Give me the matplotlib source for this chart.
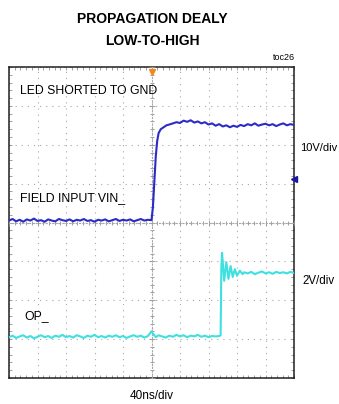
import matplotlib
matplotlib.use("Agg")
import matplotlib.pyplot as plt
from matplotlib.ticker import MultipleLocator

FONT = ['Liberation Sans Narrow', 'Liberation Sans', 'DejaVu Sans']
plt.rcParams['font.family'] = FONT

# ---------------- data (screen divisions, time in ns) ----------------
vin_t = [-200, -195, -190, -185, -180, -175, -170, -165, -160, -155,
         -150, -145, -140, -135, -130, -125, -120, -115, -110, -105,
         -100, -95, -90, -85, -80, -75, -70, -65, -60, -55,
         -50, -45, -40, -35, -30, -25, -20, -15, -10, -5, 0,
         2, 4, 6, 8, 10, 13, 17, 21,
         25, 30, 35, 40, 45, 50, 55, 60, 65, 70,
         75, 80, 85, 90, 95, 100, 105, 110, 115, 120,
         125, 130, 135, 140, 145, 150, 155, 160, 165, 170,
         175, 180, 185, 190, 195, 200]
vin_div = [0.05, 0.09, 0.03, 0.07, 0.02, 0.08, 0.05, 0.10, 0.04, 0.06,
           0.02, 0.08, 0.05, 0.03, 0.09, 0.06, 0.04, 0.08, 0.03, 0.07,
           0.05, 0.09, 0.04, 0.06, 0.02, 0.07, 0.05, 0.08, 0.03, 0.06,
           0.09, 0.04, 0.07, 0.05, 0.08, 0.03, 0.06, 0.09, 0.05, 0.07, 0.06,
           0.40, 1.05, 1.70, 2.10, 2.30, 2.40, 2.45, 2.50,
           2.52, 2.55, 2.58, 2.56, 2.62, 2.59, 2.63, 2.57, 2.60, 2.55,
           2.58, 2.52, 2.55, 2.49, 2.53, 2.47, 2.50, 2.45, 2.49, 2.46,
           2.51, 2.48, 2.53, 2.50, 2.55, 2.49, 2.52, 2.54, 2.50, 2.53,
           2.48, 2.52, 2.55, 2.50, 2.53, 2.51]

op_t = [-200, -195, -190, -185, -180, -175, -170, -165, -160, -155,
        -150, -145, -140, -135, -130, -125, -120, -115, -110, -105,
        -100, -95, -90, -85, -80, -75, -70, -65, -60, -55,
        -50, -45, -40, -35, -30, -25, -20, -15, -10, -5,
        0, 3, 6, 10, 15, 20, 25, 30, 35, 40,
        45, 50, 55, 60, 65, 70, 75, 80, 85, 90, 95,
        97, 98, 99, 102, 105, 108, 111, 114, 117, 120, 124, 128,
        130, 135, 140, 145, 150, 155, 160, 165, 170, 175,
        180, 185, 190, 195, 200]
op_div = [-2.95, -2.91, -2.97, -2.93, -2.90, -2.96, -2.92, -2.98, -2.94, -2.90,
          -2.95, -2.92, -2.97, -2.91, -2.94, -2.89, -2.95, -2.92, -2.96, -2.90,
          -2.93, -2.97, -2.91, -2.94, -2.89, -2.95, -2.92, -2.96, -2.91, -2.94,
          -2.90, -2.95, -2.92, -2.97, -2.93, -2.90, -2.94, -2.91, -2.96, -2.92,
          -2.80, -2.88, -2.95, -2.90, -2.93, -2.96, -2.91, -2.94, -2.89, -2.93,
          -2.90, -2.95, -2.91, -2.93, -2.89, -2.94, -2.91, -2.95, -2.92, -2.93, -2.92,
          -2.90, -1.20, -0.78, -1.50, -1.02, -1.45, -1.12, -1.40, -1.20, -1.37, -1.24, -1.33,
          -1.28, -1.31, -1.27, -1.33, -1.29, -1.26, -1.31, -1.28, -1.32, -1.27,
          -1.30, -1.28, -1.31, -1.27, -1.30]

trigger_t = 0
ground_div = 1.12

# ---------------- figure ----------------
W, H = 339, 404
fig = plt.figure(figsize=(W / 100, H / 100), dpi=100)
L, R, T, B = 9, 294, 67, 378
pos = [L / W, 1 - B / H, (R - L) / W, (B - T) / H]
ax = fig.add_axes(pos)
ax.set_xlim(-200, 200)
ax.set_ylim(-4, 4)
ax.xaxis.set_major_locator(MultipleLocator(40))
ax.xaxis.set_minor_locator(MultipleLocator(8))
ax.yaxis.set_major_locator(MultipleLocator(1))
ax.yaxis.set_minor_locator(MultipleLocator(0.2))
ax.tick_params(which='both', direction='in', top=True, right=True,
               labelbottom=False, labelleft=False, color='#909090', width=0.6)
ax.tick_params(which='major', length=2.5)
ax.tick_params(which='minor', length=2)
ax.grid(True, which='major', color='#a8a8a8', linestyle=(0, (1, 4.5)), linewidth=0.8)
for s in ax.spines.values():
    s.set_color('#202020')
    s.set_linewidth(1.1)

# center cross with minor ticks
ax2 = fig.add_axes(pos, facecolor='none')
ax2.set_xlim(-200, 200)
ax2.set_ylim(-4, 4)
ax2.spines['left'].set_position('center')
ax2.spines['bottom'].set_position('center')
ax2.spines['right'].set_visible(False)
ax2.spines['top'].set_visible(False)
for k in ('left', 'bottom'):
    ax2.spines[k].set_color('#a8a8a8')
    ax2.spines[k].set_linewidth(0.8)
    ax2.spines[k].set_linestyle((0, (1, 2)))
ax2.xaxis.set_major_locator(MultipleLocator(40))
ax2.xaxis.set_minor_locator(MultipleLocator(8))
ax2.yaxis.set_major_locator(MultipleLocator(1))
ax2.yaxis.set_minor_locator(MultipleLocator(0.2))
ax2.tick_params(which='both', direction='inout', labelbottom=False, labelleft=False,
                color='#909090', width=0.6)
ax2.tick_params(which='major', length=4)
ax2.tick_params(which='minor', length=3)

# traces
ax2.plot(vin_t, vin_div, color='#2b2bc8', lw=1.5, solid_joinstyle='round', zorder=5)
ax2.plot(op_t, op_div, color='#3ee0e0', lw=1.5, solid_joinstyle='round', zorder=5)

# markers
ax2.plot([trigger_t], [3.88], marker='v', color='#f08a20', markersize=5, clip_on=False, zorder=6)
ax2.plot([200], [ground_div], marker='<', color='#1a1aa0', markersize=5, clip_on=False, zorder=6)

# texts (figure pixels)
def ftext(x, y, s, **kw):
    fig.text(x / W, 1 - y / H, s, **kw)

ftext(152, 19, 'PROPAGATION DEALY', ha='center', va='center', fontsize=10, fontweight='bold')
ftext(152, 41, 'LOW-TO-HIGH', ha='center', va='center', fontsize=10, fontweight='bold')
ftext(295, 58, 'toc26', ha='right', va='center', fontsize=6.5)
ftext(20, 91, 'LED SHORTED TO GND', ha='left', va='center', fontsize=8.8)
ftext(20, 198, 'FIELD INPUT VIN_', ha='left', va='center', fontsize=8.8)
ftext(24, 316, 'OP_', ha='left', va='center', fontsize=8.8)
ftext(300, 148, '10V/div', ha='left', va='center', fontsize=8)
ftext(302, 281, '2V/div', ha='left', va='center', fontsize=8.3)
ftext(152, 396, '40ns/div', ha='center', va='center', fontsize=8.5)

fig.savefig('out.png', dpi=100)
